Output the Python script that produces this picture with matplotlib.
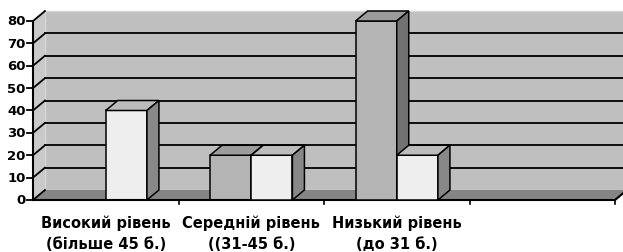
import numpy as np
import matplotlib
matplotlib.use('Agg')
import matplotlib.pyplot as plt
from matplotlib.patches import Polygon

categories = ['Високий рівень\n(більше 45 б.)', 'Середній рівень\n((31-45 б.)',
              'Низький рівень\n(до 31 б.)', '']
dark_vals = [0, 20, 80, None]
light_vals = [40, 20, 20, None]
yticks = [0, 10, 20, 30, 40, 50, 60, 70, 80]

plt.rcParams['font.family'] = ['DejaVu Sans']
plt.rcParams['font.weight'] = 'bold'

fig = plt.figure(figsize=(6.23, 2.53), dpi=100)
ax = fig.add_axes([33/623, 52/253, 582/623, 179/253])
ax.set_xlim(-0.5, 3.5)
ax.set_ylim(0, 80)
ax.axis('off')

# depth of the 3d box, in data units (12 px right, 10 px up)
DX = 12 / (582/4)
DY = 10 / (179/80)
x0, x1 = -0.5, 3.5
ytop = 80
lw = 1.3

# back wall
ax.add_patch(Polygon([(x0+DX, DY), (x1+DX, DY), (x1+DX, ytop+DY), (x0+DX, ytop+DY)],
                     closed=True, fc='#bfbfbf', ec='#d8d8d8', lw=1, clip_on=False, zorder=0))
# left side wall
ax.add_patch(Polygon([(x0, 0), (x0+DX, DY), (x0+DX, ytop+DY), (x0, ytop)],
                     closed=True, fc='#c9c9c9', ec='none', clip_on=False, zorder=0))
# floor
ax.add_patch(Polygon([(x0, 0), (x1, 0), (x1+DX, DY), (x0+DX, DY)],
                     closed=True, fc='#858585', ec='none', clip_on=False, zorder=1))

for y in yticks:
    if 0 < y < ytop:
        ax.plot([x0+DX, x1+DX], [y+DY, y+DY], color='black', lw=lw, clip_on=False, zorder=1)
    ax.plot([x0, x0+DX], [y, y+DY], color='black', lw=lw, clip_on=False, zorder=2)
    ax.plot([x0-0.04, x0], [y, y], color='black', lw=lw, clip_on=False, zorder=2)
    ax.text(x0-0.05, y, str(y), ha='right', va='center', fontsize=9.5, fontweight='bold')

# axes lines
ax.plot([x0, x0], [0, ytop], color='black', lw=1.5, clip_on=False, zorder=5)
ax.plot([x0, x1], [0, 0], color='black', lw=1.5, clip_on=False, zorder=5)
ax.plot([x1, x1+DX], [0, DY], color='black', lw=1.5, clip_on=False, zorder=5)
for b in [0.5, 1.5, 2.5, 3.5]:
    ax.plot([b, b], [0, -1.6], color='black', lw=1.2, clip_on=False, zorder=5)

bw = 0.283
styles = [('#b4b4b4', '#9c9c9c', '#727272'), ('#eeeeee', '#bcbcbc', '#888888')]
z = 3
for i in range(len(categories)):
    for k, vals in enumerate([dark_vals, light_vals]):
        h = vals[i]
        if not h:
            continue
        x = i - bw + k*bw
        front, top, side = styles[k]
        ax.bar(x, h, width=bw, align='edge', color=front, edgecolor='black',
               linewidth=1.1, zorder=z, clip_on=False)
        ax.add_patch(Polygon([(x, h), (x+bw, h), (x+bw+DX, h+DY), (x+DX, h+DY)],
                             closed=True, fc=top, ec='black', lw=1.1, zorder=z, clip_on=False))
        ax.add_patch(Polygon([(x+bw, 0), (x+bw, h), (x+bw+DX, h+DY), (x+bw+DX, DY)],
                             closed=True, fc=side, ec='black', lw=1.1, zorder=z, clip_on=False))
        z += 1

for i, lab in enumerate(categories):
    ax.text(i, -6.3, lab, ha='center', va='top', fontsize=10.5, fontweight='bold',
            linespacing=1.5)

fig.savefig('out.png', dpi=100)
